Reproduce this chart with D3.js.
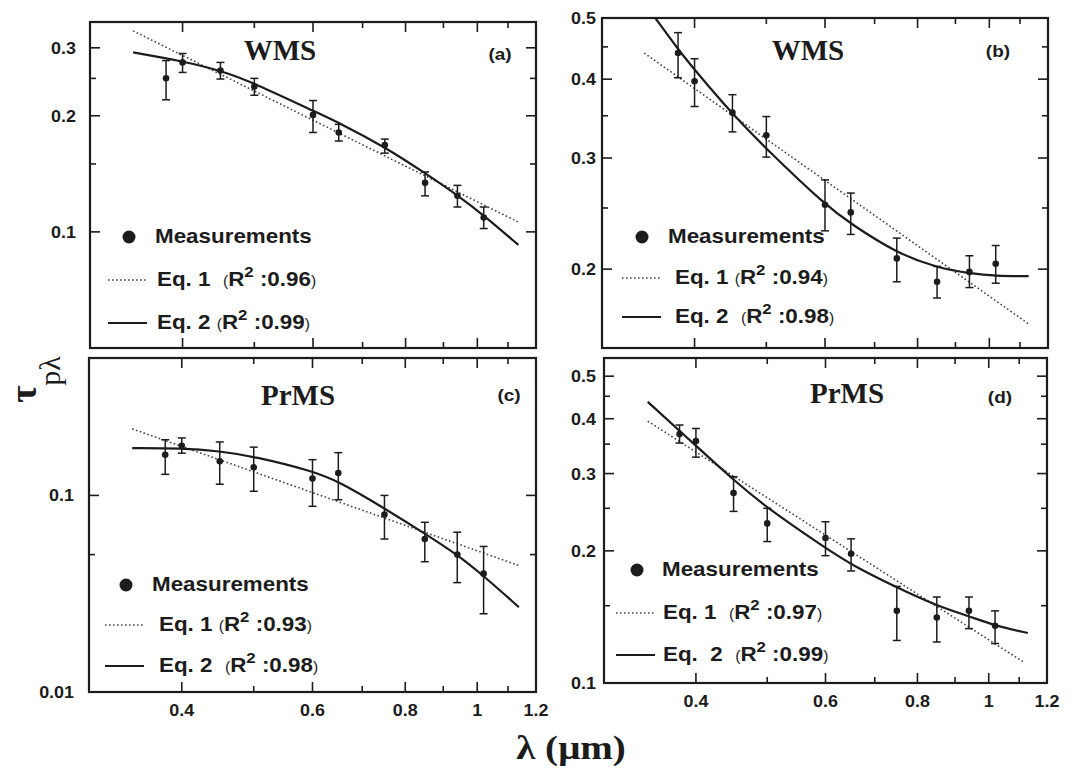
<!DOCTYPE html>
<html><head><meta charset="utf-8">
<script src="https://cdn.jsdelivr.net/npm/d3@7"></script>
<style>
html,body{margin:0;padding:0;background:#fff;}
svg{display:block;}
</style></head>
<body>
<svg id="chart" width="1074" height="774"></svg>
<script>
// ---------------- DATA ----------------
const lambda = [0.38, 0.40, 0.45, 0.50, 0.60, 0.65, 0.75, 0.85, 0.94, 1.02];

// (a) WMS
const tauA = [0.250, 0.275, 0.262, 0.238, 0.201, 0.181, 0.168, 0.134, 0.124, 0.109];
const loA  = [0.220, 0.259, 0.249, 0.226, 0.181, 0.172, 0.160, 0.124, 0.116, 0.102];
const hiA  = [0.278, 0.290, 0.275, 0.250, 0.219, 0.190, 0.174, 0.143, 0.132, 0.116];
const eq1LamA = [0.343, 1.136];
const eq1A    = [0.332, 0.106];
const eq2LamA = [0.343, 0.40, 0.45, 0.50, 0.60, 0.65, 0.75, 0.85, 0.94, 1.02, 1.136];
const eq2A    = [0.292, 0.277, 0.262, 0.243, 0.206, 0.192, 0.166, 0.142, 0.1245, 0.1105, 0.0925];

// (b) WMS
const tauB = [0.440, 0.397, 0.354, 0.326, 0.253, 0.246, 0.208, 0.191, 0.198, 0.204];
const loB  = [0.402, 0.362, 0.330, 0.301, 0.230, 0.227, 0.191, 0.180, 0.187, 0.190];
const hiB  = [0.474, 0.431, 0.378, 0.349, 0.277, 0.264, 0.224, 0.202, 0.210, 0.218];
const eq1LamB = [0.342, 1.128];
const eq1B    = [0.440, 0.164];
const eq2LamB = [0.354, 0.38, 0.40, 0.45, 0.50, 0.60, 0.65, 0.75, 0.85, 0.94, 1.02, 1.13];
const eq2B    = [0.500, 0.446, 0.414, 0.352, 0.310, 0.253, 0.236, 0.212, 0.201, 0.197, 0.195, 0.195];

// (c) PrMS
const tauC = [0.161, 0.179, 0.149, 0.139, 0.122, 0.130, 0.080, 0.060, 0.050, 0.040];
const loC  = [0.128, 0.164, 0.114, 0.105, 0.088, 0.095, 0.060, 0.046, 0.036, 0.025];
const hiC  = [0.192, 0.196, 0.187, 0.176, 0.152, 0.165, 0.100, 0.073, 0.065, 0.055];
const eq1LamC = [0.343, 1.136];
const eq1C    = [0.218, 0.0441];
const eq2LamC = [0.343, 0.40, 0.45, 0.50, 0.60, 0.65, 0.75, 0.85, 0.94, 1.02, 1.138];
const eq2C    = [0.174, 0.174, 0.168, 0.158, 0.133, 0.118, 0.086, 0.064, 0.050, 0.039, 0.027];

// (d) PrMS
const tauD = [0.369, 0.356, 0.271, 0.231, 0.214, 0.197, 0.146, 0.141, 0.146, 0.135];
const loD  = [0.352, 0.327, 0.246, 0.210, 0.195, 0.180, 0.125, 0.124, 0.133, 0.123];
const hiD  = [0.387, 0.380, 0.295, 0.250, 0.233, 0.213, 0.166, 0.157, 0.157, 0.146];
const eq1LamD = [0.344, 1.116];
const eq1D    = [0.395, 0.1115];
const eq2LamD = [0.344, 0.40, 0.45, 0.50, 0.60, 0.65, 0.75, 0.85, 0.94, 1.02, 1.13];
const eq2D    = [0.437, 0.347, 0.290, 0.250, 0.203, 0.186, 0.165, 0.150, 0.142, 0.135, 0.130];

// axes
const xDomain = [0.3, 1.2];
const xMajorTicks = [0.4, 0.6, 0.8, 1.0, 1.2];
const xMinorTicks = [0.5, 0.7, 0.9, 1.1];
const xTickLabels = ["0.4", "0.6", "0.8", "1", "1.2"];

const yDomainA = [0.05, 0.35], yMajorA = [0.1, 0.2, 0.3], yMinorA = [0.15, 0.25], yLabelsA = ["0.1", "0.2", "0.3"];
const yDomainB = [0.15, 0.5],  yMajorB = [0.2, 0.3, 0.4, 0.5], yMinorB = [0.25, 0.35, 0.45], yLabelsB = ["0.2", "0.3", "0.4", "0.5"];
const yDomainC = [0.01, 0.5],  yMajorC = [0.01, 0.1], yMinorC = [0.05], yLabelsC = ["0.01", "0.1"];
const yDomainD = [0.1, 0.55],  yMajorD = [0.1, 0.2, 0.3, 0.4, 0.5], yMinorD = [0.15, 0.25, 0.35, 0.45], yLabelsD = ["0.1", "0.2", "0.3", "0.4", "0.5"];

const titles = ["WMS", "WMS", "PrMS", "PrMS"];
const tags = ["(a)", "(b)", "(c)", "(d)"];
const eq1Labels = ["Eq. 1  ", "Eq. 1 ", "Eq. 1 ", "Eq. 1  "];
const eq2Labels = ["Eq. 2 ", "Eq. 2  ", "Eq. 2  ", "Eq.  2  "];
const r2Eq1 = ["0.96", "0.94", "0.93", "0.97"];
const r2Eq2 = ["0.99", "0.98", "0.98", "0.99"];

// ---------------- LAYOUT ----------------
const INK = "#1c1c1c";
const panels = [
  { box: {l: 90, r: 536, t: 22, b: 348}, yDomain: yDomainA, yMajor: yMajorA, yMinor: yMinorA, yLabels: yLabelsA, labGap: 14,
    tau: tauA, lo: loA, hi: hiA, e1x: eq1LamA, e1y: eq1A, e2x: eq2LamA, e2y: eq2A, showX: false,
    title: {x: 280, y: 60}, tag: {x: 500, y: 60},
    leg: {dot: [129, 237], mx: 155, my: 243, lx: 108, l1: 280, l2: 323, tx: 157} },
  { box: {l: 602, r: 1048, t: 18, b: 348}, yDomain: yDomainB, yMajor: yMajorB, yMinor: yMinorB, yLabels: yLabelsB, labGap: 6,
    tau: tauB, lo: loB, hi: hiB, e1x: eq1LamB, e1y: eq1B, e2x: eq2LamB, e2y: eq2B, showX: false,
    title: {x: 808, y: 60}, tag: {x: 998, y: 57},
    leg: {dot: [642, 237], mx: 668, my: 243, lx: 622, l1: 278, l2: 317, tx: 675} },
  { box: {l: 89, r: 536, t: 358, b: 692}, yDomain: yDomainC, yMajor: yMajorC, yMinor: yMinorC, yLabels: yLabelsC, labGap: 15,
    tau: tauC, lo: loC, hi: hiC, e1x: eq1LamC, e1y: eq1C, e2x: eq2LamC, e2y: eq2C, showX: true,
    title: {x: 298, y: 405}, tag: {x: 509, y: 401},
    leg: {dot: [126, 585], mx: 152, my: 591, lx: 105, l1: 625, l2: 666, tx: 159} },
  { box: {l: 604, r: 1047, t: 358, b: 683}, yDomain: yDomainD, yMajor: yMajorD, yMinor: yMinorD, yLabels: yLabelsD, labGap: 8,
    tau: tauD, lo: loD, hi: hiD, e1x: eq1LamD, e1y: eq1D, e2x: eq2LamD, e2y: eq2D, showX: true,
    title: {x: 847, y: 403}, tag: {x: 1000, y: 403},
    leg: {dot: [637, 570], mx: 662, my: 576, lx: 616, l1: 613, l2: 655, tx: 663} }
];

const svg = d3.select("#chart");
const SANS = "'Liberation Sans', Arial, sans-serif";
const SERIF = "'Liberation Serif', 'Times New Roman', serif";
const SX = 1.12;

function sansText(g, x, y, str, size, anchor) {
  return g.append("text")
    .attr("transform", `translate(${x},${y}) scale(${SX},1)`)
    .attr("text-anchor", anchor || "start")
    .attr("font-family", SANS).attr("font-weight", "bold")
    .attr("font-size", size).attr("fill", INK).text(str);
}

panels.forEach((p, i) => {
  const g = svg.append("g");
  const x = d3.scaleLog().domain(xDomain).range([p.box.l, p.box.r]);
  const y = d3.scaleLog().domain(p.yDomain).range([p.box.b, p.box.t]);

  const clipId = "clip" + i;
  svg.append("clipPath").attr("id", clipId).append("rect")
    .attr("x", p.box.l).attr("y", p.box.t).attr("width", p.box.r - p.box.l).attr("height", p.box.b - p.box.t);

  // ticks (inward on all sides)
  const tg = g.append("g").attr("stroke", INK).attr("stroke-width", 1.6);
  const xt = xMajorTicks.filter(v => v < xDomain[1]).map(v => [v, 10]).concat(xMinorTicks.map(v => [v, 6]));
  xt.forEach(([v, len]) => {
    const px = x(v);
    tg.append("line").attr("x1", px).attr("x2", px).attr("y1", p.box.b).attr("y2", p.box.b - len);
    tg.append("line").attr("x1", px).attr("x2", px).attr("y1", p.box.t).attr("y2", p.box.t + len);
  });
  const yt = p.yMajor.filter(v => v > p.yDomain[0] && v < p.yDomain[1]).map(v => [v, 10])
    .concat(p.yMinor.map(v => [v, 6]));
  yt.forEach(([v, len]) => {
    const py = y(v);
    tg.append("line").attr("y1", py).attr("y2", py).attr("x1", p.box.l).attr("x2", p.box.l + len);
    tg.append("line").attr("y1", py).attr("y2", py).attr("x1", p.box.r).attr("x2", p.box.r - len);
  });

  // y tick labels
  p.yMajor.forEach((v, k) => {
    sansText(g, p.box.l - p.labGap, y(v) + 6, p.yLabels[k], 16, "end");
  });
  // x tick labels
  if (p.showX) {
    xMajorTicks.forEach((v, k) => {
      sansText(g, x(v), p.box.b + 24, xTickLabels[k], 16, "middle");
    });
  }

  // frame
  g.append("rect").attr("x", p.box.l).attr("y", p.box.t)
    .attr("width", p.box.r - p.box.l).attr("height", p.box.b - p.box.t)
    .attr("fill", "none").attr("stroke", INK).attr("stroke-width", 2.2);

  const plot = g.append("g").attr("clip-path", `url(#${clipId})`);

  // Eq. 1 (dotted)
  const e1 = p.e1x.map((l, k) => [l, p.e1y[k]]);
  plot.append("path").datum(e1)
    .attr("d", d3.line().x(d => x(d[0])).y(d => y(d[1])))
    .attr("fill", "none").attr("stroke", "#444").attr("stroke-width", 1.6)
    .attr("stroke-dasharray", "1.6,2.4");

  // Eq. 2 (solid)
  const e2 = p.e2x.map((l, k) => [l, p.e2y[k]]);
  plot.append("path").datum(e2)
    .attr("d", d3.line().curve(d3.curveBasis).x(d => x(d[0])).y(d => y(d[1])))
    .attr("fill", "none").attr("stroke", INK).attr("stroke-width", 2.2);

  // error bars
  const eb = plot.append("g").attr("stroke", INK).attr("stroke-width", 1.5);
  lambda.forEach((l, k) => {
    const px = x(l);
    eb.append("line").attr("x1", px).attr("x2", px).attr("y1", y(p.lo[k])).attr("y2", y(p.hi[k]));
    eb.append("line").attr("x1", px - 4).attr("x2", px + 4).attr("y1", y(p.lo[k])).attr("y2", y(p.lo[k]));
    eb.append("line").attr("x1", px - 4).attr("x2", px + 4).attr("y1", y(p.hi[k])).attr("y2", y(p.hi[k]));
  });
  // points
  plot.selectAll("circle.pt").data(lambda.map((l, k) => [l, p.tau[k]])).enter()
    .append("circle").attr("class", "pt")
    .attr("cx", d => x(d[0])).attr("cy", d => y(d[1])).attr("r", 3.3).attr("fill", INK);

  // title & tag
  g.append("text").attr("x", p.title.x).attr("y", p.title.y).attr("text-anchor", "middle")
    .attr("font-family", SERIF).attr("font-weight", "bold").attr("font-size", 29).attr("fill", INK)
    .text(titles[i]);
  sansText(g, p.tag.x, p.tag.y, tags[i], 17, "middle");

  // legend
  const L = p.leg;
  g.append("circle").attr("cx", L.dot[0]).attr("cy", L.dot[1]).attr("r", 6.5).attr("fill", INK);
  sansText(g, L.mx, L.my, "Measurements", 20, "start");
  g.append("line").attr("x1", L.lx).attr("x2", L.lx + 39).attr("y1", L.l1).attr("y2", L.l1)
    .attr("stroke", "#444").attr("stroke-width", 1.6).attr("stroke-dasharray", "1.6,2.4");
  g.append("line").attr("x1", L.lx).attr("x2", L.lx + 39).attr("y1", L.l2).attr("y2", L.l2)
    .attr("stroke", INK).attr("stroke-width", 2.2);
  [[L.l1, eq1Labels[i], r2Eq1[i]], [L.l2, eq2Labels[i], r2Eq2[i]]].forEach(([ly, lab, r2]) => {
    const t = sansText(g, L.tx, ly + 6, "", 20, "start").attr("xml:space", "preserve");
    t.append("tspan").text(lab);
    t.append("tspan").attr("font-size", 14).attr("font-weight", "normal").text("(");
    t.append("tspan").text("R");
    t.append("tspan").attr("font-size", 15).attr("dy", -9).text("2");
    t.append("tspan").attr("dy", 9).text(" :" + r2);
    t.append("tspan").attr("font-size", 14).attr("font-weight", "normal").text(")");
  });
});

// axis titles
svg.append("text").attr("transform", "translate(36,394) rotate(-90)")
  .attr("text-anchor", "middle").attr("font-family", SERIF).attr("font-weight", "bold")
  .attr("font-size", 38).attr("fill", INK).text("τ");
svg.append("text").attr("transform", "translate(60,371) rotate(-90)")
  .attr("text-anchor", "middle").attr("font-family", SERIF)
  .attr("font-size", 30).attr("fill", INK).text("pλ");
svg.append("text").attr("transform", `translate(571,759) scale(1.15,1)`)
  .attr("text-anchor", "middle").attr("font-family", SERIF).attr("font-weight", "bold")
  .attr("font-size", 34).attr("fill", INK).text("λ (μm)");
</script>
</body></html>
